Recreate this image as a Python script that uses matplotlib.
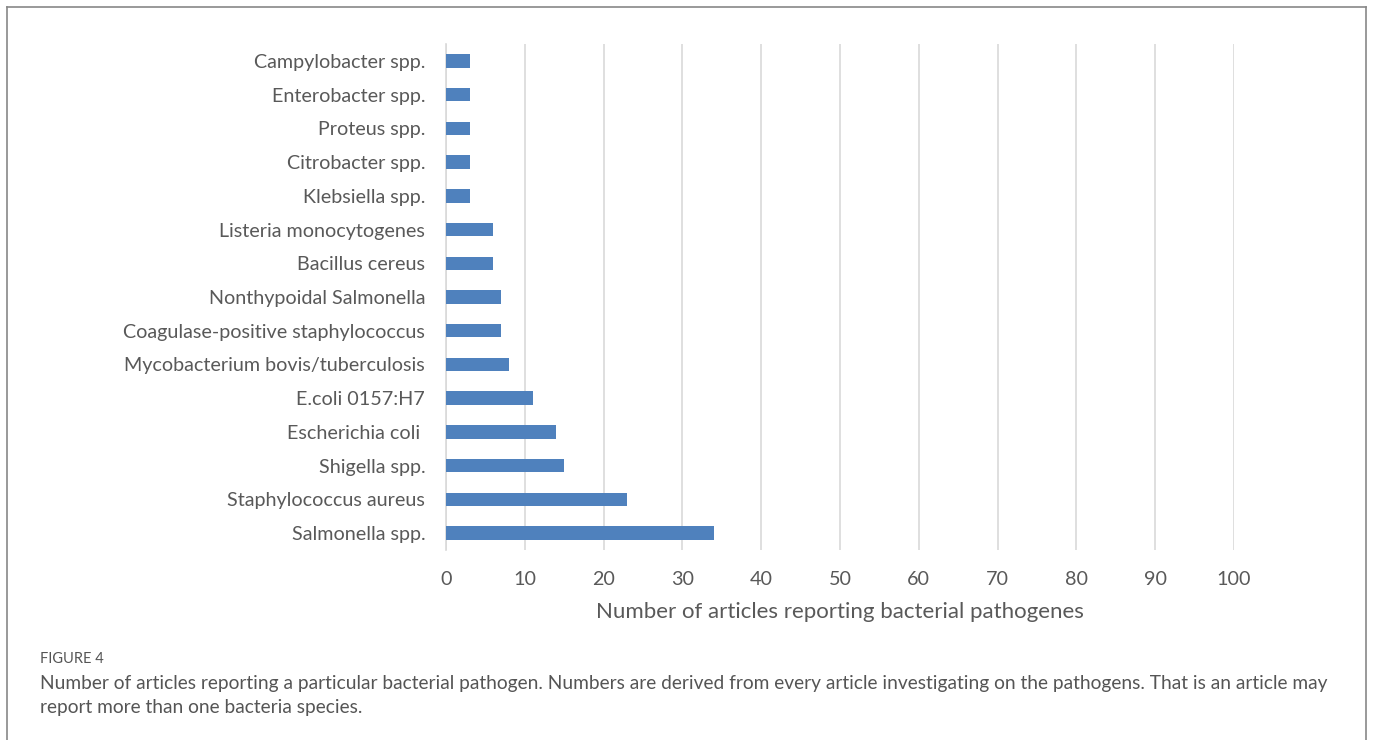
import matplotlib.pyplot as plt

# data, bottom-to-top as drawn
pathogens = ["Salmonella spp.", "Staphylococcus aureus", "Shigella spp.",
             "Escherichia coli ", "E.coli 0157:H7", "Mycobacterium bovis/tuberculosis",
             "Coagulase-positive staphylococcus", "Nonthypoidal Salmonella",
             "Bacillus cereus", "Listeria monocytogenes", "Klebsiella spp.",
             "Citrobacter spp.", "Proteus spp.", "Enterobacter spp.", "Campylobacter spp."]
articles = [34, 23, 15, 14, 11, 8, 7, 7, 6, 6, 3, 3, 3, 3, 3]
xticks = list(range(0, 101, 10))

plt.rcParams['font.family'] = ['Lato', 'DejaVu Sans']

W, H = 1373, 740
fig = plt.figure(figsize=(W / 100, H / 100), dpi=100)

# outer frame (open at the bottom)
fig.add_artist(plt.Line2D([7 / W, 7 / W], [0, 1 - 7 / H], color='#888888', lw=1.2))
fig.add_artist(plt.Line2D([1366 / W, 1366 / W], [0, 1 - 7 / H], color='#888888', lw=1.2))
fig.add_artist(plt.Line2D([7 / W, 1366 / W], [1 - 7 / H, 1 - 7 / H], color='#888888', lw=1.2))

# axes: x from 446 to 1234 px, y from 44 to 550 px
ax = fig.add_axes([446 / W, 1 - 550 / H, (1234 - 446) / W, (550 - 44) / H])
ax.barh(range(len(pathogens)), articles, height=0.4, color='#4f81bd', zorder=3)
ax.set_xlim(0, 100)
ax.set_ylim(-0.5, len(pathogens) - 0.5)
ax.set_xticks(xticks)
ax.set_yticks(range(len(pathogens)))
ax.set_yticklabels(pathogens)
ax.grid(axis='x', color='#d9d9d9', lw=1.2, zorder=0)
for s in ['top', 'right', 'bottom']:
    ax.spines[s].set_visible(False)
ax.spines['left'].set_color('#d9d9d9')
ax.spines['left'].set_linewidth(1.2)
ax.tick_params(length=0, labelsize=14.2, colors='#595959')
ax.tick_params(axis='x', pad=15)
ax.tick_params(axis='y', pad=15)
ax.set_xlabel("Number of articles reporting bacterial pathogenes", fontsize=16,
              color='#595959', labelpad=10)

# caption
fig.text(40 / W, 1 - 659 / H, "FIGURE 4", fontsize=10.5, color='#555555', va='center')
fig.text(40 / W, 1 - 683 / H,
         "Number of articles reporting a particular bacterial pathogen. Numbers are derived from every article "
         "investigating on the pathogens. That is an article may",
         fontsize=13.8, color='#555555', va='center')
fig.text(40 / W, 1 - 707 / H, "report more than one bacteria species.",
         fontsize=13.8, color='#555555', va='center')

fig.savefig('out.png', dpi=100)
